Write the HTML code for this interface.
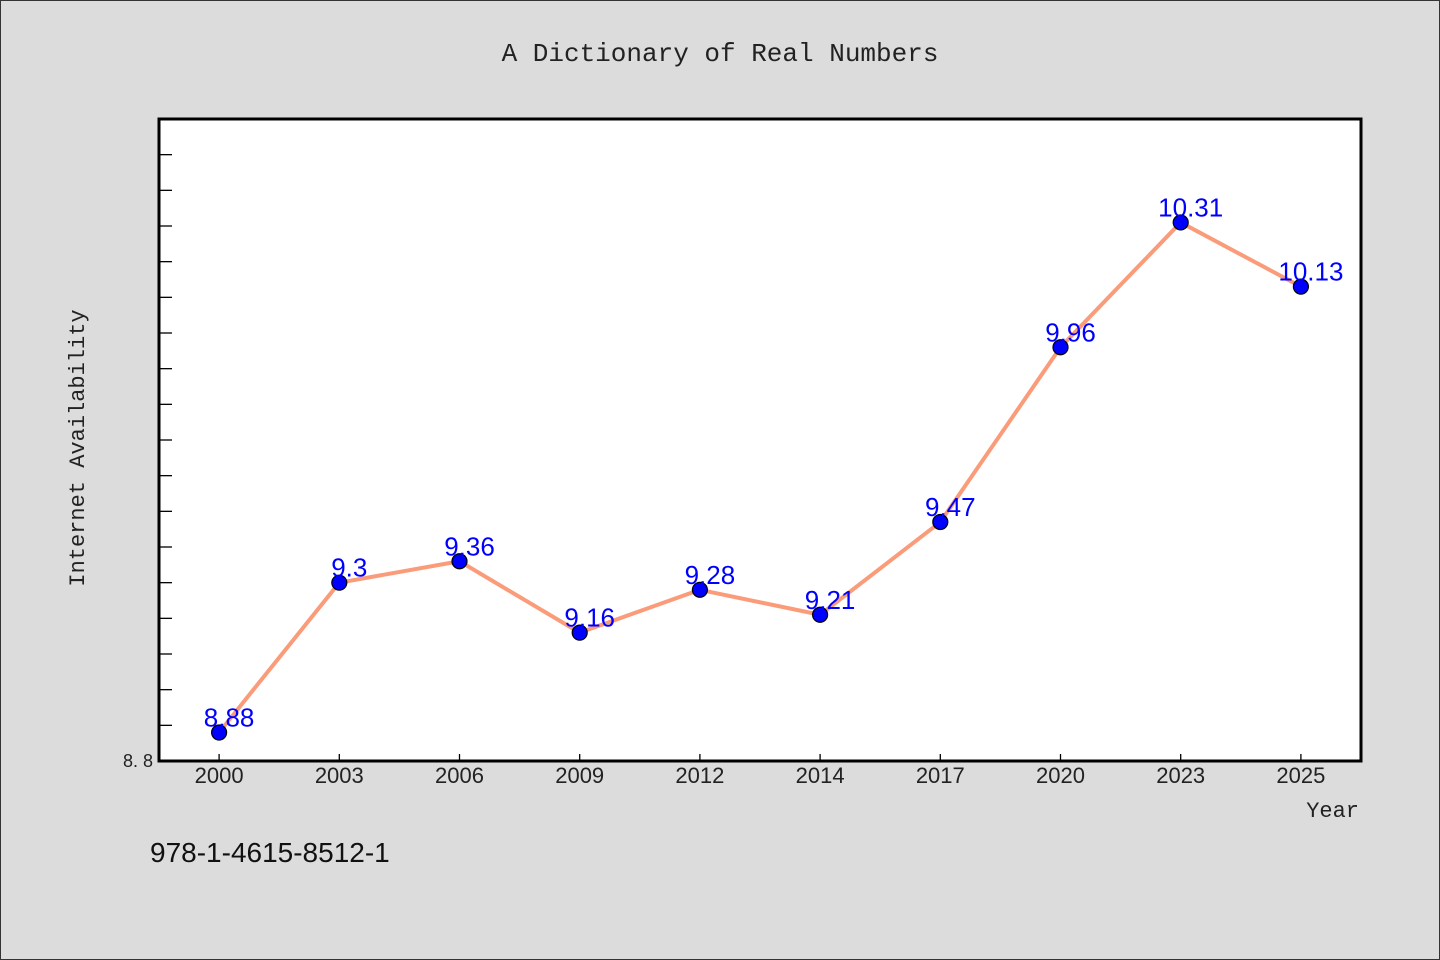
<!DOCTYPE html>
<html><head><meta charset="utf-8"><style>
html,body{margin:0;padding:0;background:#dcdcdc;}
svg{display:block;font-family:"Liberation Sans","WenQuanYi Zen Hei",sans-serif;}
</style></head><body>
<svg id="chart" width="1440" height="960">
<rect x="0.5" y="0.5" width="1439" height="959" fill="#dcdcdc" stroke="#333"/>
<text x="720" y="61" text-anchor="middle" font-size="26" fill="#222" font-family="'WenQuanYi Zen Hei','Liberation Mono',monospace">A Dictionary of Real Numbers</text>
<rect x="159" y="119" width="1202" height="642" fill="#fff" stroke="#000" stroke-width="3"/>
<text transform="translate(84,448) rotate(-90)" text-anchor="middle" font-size="22" fill="#222" font-family="'WenQuanYi Zen Hei','Liberation Mono',monospace">Internet Availability</text>
<text x="1359" y="817" text-anchor="end" font-size="22" fill="#222" font-family="'WenQuanYi Zen Hei','Liberation Mono',monospace">Year</text>
<text x="150" y="862" font-size="28" fill="#111" font-family="'WenQuanYi Zen Hei','Liberation Sans',sans-serif">978-1-4615-8512-1</text>
<g id="ticks"></g><g id="series"></g>
</svg>
<script>
const categories = ["2000","2003","2006","2009","2012","2014","2017","2020","2023","2025"];
const values = [8.88, 9.3, 9.36, 9.16, 9.28, 9.21, 9.47, 9.96, 10.31, 10.13];
const yTickLabels = ["8.8"];
const yMin = 8.8, yMax = 10.6, yMinorStep = 0.1;
const X0 = 159, X1 = 1361, Y0 = 761, Y1 = 119;
const NS = "http://www.w3.org/2000/svg";
const band = (X1 - X0) / categories.length;
function xPos(i){ return X0 + band * (i + 0.5); }
function yPos(v){ return Y0 - (v - yMin) / (yMax - yMin) * (Y0 - Y1); }
function mk(tag, attrs, parent){ const e=document.createElementNS(NS,tag); for(const k in attrs) e.setAttribute(k,attrs[k]); parent.appendChild(e); return e; }
const ticks = document.getElementById('ticks');
const series = document.getElementById('series');
for (let v = yMin + yMinorStep; v < yMax - 1e-9; v += yMinorStep) {
  const t = mk('line',{x1:X0,x2:X0+13,y1:yPos(v),y2:yPos(v),stroke:'#000','stroke-width':1.3},ticks);
  
  
}
yTickLabels.forEach(s => {
  const t = mk('text',{x:X0-6,y:yPos(parseFloat(s))+6,'text-anchor':'end','font-size':18,fill:'#222'},ticks);
  t.textContent = s.replace('.', '. ');
  
  
});
categories.forEach((c,i) => {
  const t = mk('line',{x1:xPos(i),x2:xPos(i),y1:Y0,y2:Y0-7,stroke:'#000','stroke-width':1.3},ticks);
  
  
  const l = mk('text',{x:xPos(i),y:783,'text-anchor':'middle','font-size':22,fill:'#222'},ticks);
  l.textContent = c;
  
  
});
const pts = values.map((v,i)=>xPos(i)+','+yPos(v)).join(' ');
const line = mk('polyline',{points:pts,fill:'none',stroke:'#fa9c7a','stroke-width':4,'stroke-linejoin':'round'},series);


values.forEach((v,i) => {
  const c = mk('circle',{cx:xPos(i),cy:yPos(v),r:7.5,fill:'#0000ff',stroke:'#000','stroke-width':1.2},series);
  
  
  const t = mk('text',{x:xPos(i)+10,y:yPos(v)-6,'text-anchor':'middle','font-size':26,fill:'#0000ff'},series);
  t.textContent = String(v);
  
  
});
</script>
</body></html>
